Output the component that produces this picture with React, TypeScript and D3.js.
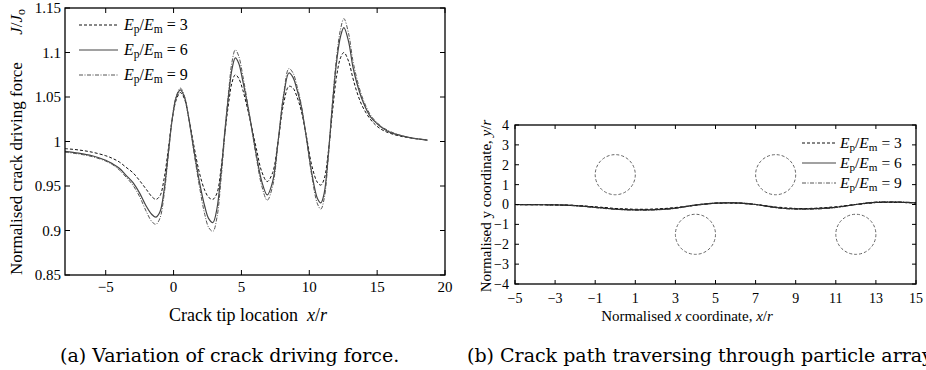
import React, { useRef, useEffect } from 'react';
import * as d3 from 'd3';

const W = 926;
const H = 370;

// (a) crack driving force J/Jo against crack tip location x/r
const tipX = [-8, -7, -6, -5, -4.5, -4, -3.5, -3, -2.5, -2, -1.6, -1.3, -1.0, -0.7, -0.4, -0.1, 0.2, 0.5, 0.8, 1.1, 1.5, 1.9, 2.3, 2.6, 2.9, 3.2, 3.5, 3.8, 4.1, 4.3, 4.55, 4.8, 5.1, 5.4, 5.7, 6.1, 6.5, 6.9, 7.3, 7.7, 8.1, 8.5, 8.8, 9.1, 9.4, 9.8, 10.2, 10.6, 10.85, 11.1, 11.4, 11.7, 12.0, 12.3, 12.55, 12.9, 13.2, 13.5, 13.9, 14.5, 15.0, 15.5, 16.0, 16.7, 17.5, 18.7];
const jE3 = [0.992, 0.9905, 0.988, 0.984, 0.981, 0.977, 0.971, 0.965, 0.956, 0.946, 0.938, 0.935, 0.939, 0.958, 0.990, 1.025, 1.047, 1.055, 1.048, 1.028, 0.995, 0.965, 0.945, 0.937, 0.935, 0.942, 0.970, 1.012, 1.048, 1.066, 1.075, 1.071, 1.058, 1.040, 1.020, 0.992, 0.966, 0.955, 0.965, 1.000, 1.042, 1.062, 1.060, 1.050, 1.035, 1.005, 0.972, 0.954, 0.951, 0.958, 0.988, 1.032, 1.072, 1.094, 1.100, 1.090, 1.072, 1.056, 1.040, 1.025, 1.017, 1.012, 1.009, 1.006, 1.004, 1.0015];
const jE6 = [0.989, 0.987, 0.984, 0.979, 0.975, 0.970, 0.962, 0.954, 0.942, 0.927, 0.918, 0.915, 0.921, 0.945, 0.985, 1.025, 1.050, 1.058, 1.050, 1.028, 0.990, 0.955, 0.927, 0.913, 0.909, 0.925, 0.965, 1.015, 1.058, 1.081, 1.094, 1.088, 1.068, 1.045, 1.020, 0.985, 0.955, 0.940, 0.955, 1.000, 1.050, 1.077, 1.072, 1.058, 1.040, 1.003, 0.963, 0.936, 0.931, 0.942, 0.985, 1.040, 1.088, 1.118, 1.128, 1.112, 1.085, 1.066, 1.047, 1.028, 1.020, 1.014, 1.010, 1.007, 1.004, 1.0015];
const jE9 = [0.988, 0.986, 0.983, 0.978, 0.974, 0.968, 0.960, 0.951, 0.938, 0.921, 0.910, 0.907, 0.914, 0.940, 0.983, 1.026, 1.051, 1.060, 1.051, 1.028, 0.988, 0.950, 0.918, 0.903, 0.899, 0.915, 0.958, 1.012, 1.063, 1.089, 1.103, 1.096, 1.074, 1.048, 1.020, 0.982, 0.950, 0.934, 0.950, 0.998, 1.052, 1.082, 1.077, 1.062, 1.042, 1.002, 0.960, 0.930, 0.924, 0.936, 0.982, 1.042, 1.093, 1.126, 1.138, 1.121, 1.092, 1.071, 1.050, 1.030, 1.021, 1.015, 1.011, 1.007, 1.004, 1.0015];
const tipXTicks = [-5, 0, 5, 10, 15, 20];
const jTicks = [0.85, 0.9, 0.95, 1, 1.05, 1.1, 1.15];

// (b) crack path y/r against x/r, with the particle array
const pathX = [-5, -4, -3, -2, -1, 0, 1, 2, 3, 4, 5, 6, 7, 8, 9, 10, 11, 12, 13, 14, 15];
const pathE3 = [0, -0.01, -0.02, -0.05, -0.12, -0.2, -0.24, -0.23, -0.16, -0.03, 0.06, 0.07, 0.0, -0.13, -0.2, -0.19, -0.12, 0.0, 0.1, 0.11, 0.08];
const pathE6 = [0, -0.01, -0.02, -0.06, -0.14, -0.23, -0.27, -0.26, -0.18, -0.03, 0.07, 0.08, 0.0, -0.15, -0.22, -0.21, -0.14, 0.0, 0.11, 0.12, 0.08];
const pathE9 = [0, -0.01, -0.02, -0.06, -0.15, -0.24, -0.28, -0.27, -0.19, -0.03, 0.07, 0.09, 0.0, -0.16, -0.23, -0.22, -0.15, 0.0, 0.12, 0.13, 0.09];
const particleX = [0, 8, 4, 12];
const particleY = [1.5, 1.5, -1.5, -1.5];
const particleR = 1;
const pathXTicks = [-5, -3, -1, 1, 3, 5, 7, 9, 11, 13, 15];
const pathYTicks = [-4, -3, -2, -1, 0, 1, 2, 3, 4];

const ratios = [3, 6, 9];
const seriesStyle = [
  { stroke: '#111', dash: '3,2', width: 1 },
  { stroke: '#444', dash: null, width: 1.2 },
  { stroke: '#555', dash: '4,1.5,1,1.5', width: 1 },
];
const pathStyle = [
  { stroke: '#000', dash: '3,2', width: 1.2 },
  { stroke: '#222', dash: null, width: 1.2 },
  { stroke: '#333', dash: '4,1.5,1,1.5', width: 1.2 },
];

const SERIF = '"Liberation Serif", "Times New Roman", serif';
const CAPTION = '"DejaVu Serif", serif';
const fmt = (v: number) => String(v).replace('-', '\u2212');

const App: React.FC = () => {
  const svgRef = useRef<SVGSVGElement>(null);

  useEffect(() => {
    if (!svgRef.current) return;
    const svg = d3.select(svgRef.current);
    svg.selectAll('*').remove();

    const frame = (g: any, x: any, y: any, xt: number[], yt: number[], tick: number) => {
      const [x0, x1] = x.range();
      const [y0, y1] = y.range();
      xt.forEach(t => {
        g.append('line').attr('x1', x(t)).attr('x2', x(t)).attr('y1', y0).attr('y2', y0 - tick).attr('stroke', '#000');
        g.append('line').attr('x1', x(t)).attr('x2', x(t)).attr('y1', y1).attr('y2', y1 + tick).attr('stroke', '#000');
      });
      yt.forEach(t => {
        g.append('line').attr('x1', x0).attr('x2', x0 + tick).attr('y1', y(t)).attr('y2', y(t)).attr('stroke', '#000');
        g.append('line').attr('x1', x1).attr('x2', x1 - tick).attr('y1', y(t)).attr('y2', y(t)).attr('stroke', '#000');
      });
      g.append('rect')
        .attr('x', x0).attr('y', y1)
        .attr('width', x1 - x0).attr('height', y0 - y1)
        .attr('fill', 'none').attr('stroke', '#000').attr('stroke-width', 1.3);
    };

    const legend = (g: any, lx0: number, lx1: number, tx: number, ys: number[], fs: number) => {
      ratios.forEach((r, i) => {
        const st = seriesStyle[i];
        g.append('line')
          .attr('x1', lx0).attr('x2', lx1).attr('y1', ys[i]).attr('y2', ys[i])
          .attr('stroke', st.stroke).attr('stroke-width', st.width)
          .attr('stroke-dasharray', st.dash);
        const t = g.append('text')
          .attr('x', tx).attr('y', ys[i] + fs * 0.33)
          .attr('font-family', SERIF).attr('font-size', fs);
        t.append('tspan').attr('font-style', 'italic').text('E');
        t.append('tspan').attr('font-size', fs * 0.72).attr('dy', fs * 0.2).text('p');
        t.append('tspan').attr('dy', -fs * 0.2).text('/');
        t.append('tspan').attr('font-style', 'italic').text('E');
        t.append('tspan').attr('font-size', fs * 0.72).attr('dy', fs * 0.2).text('m');
        t.append('tspan').attr('dy', -fs * 0.2).text(` = ${r}`);
      });
    };

    // ---------- (a) ----------
    const gA = svg.append('g');
    const xA = d3.scaleLinear().domain([-8, 20]).range([65, 445]);
    const yA = d3.scaleLinear().domain([0.85, 1.15]).range([275, 8]);

    [jE3, jE6, jE9].forEach((ys, i) => {
      const st = seriesStyle[i];
      const line = d3.line<number>()
        .x((_, k) => xA(tipX[k]))
        .y(d => yA(d))
        .curve(d3.curveCatmullRom.alpha(0.5));
      gA.append('path')
        .attr('d', line(ys) as string)
        .attr('fill', 'none')
        .attr('stroke', st.stroke)
        .attr('stroke-width', st.width)
        .attr('stroke-dasharray', st.dash);
    });
    frame(gA, xA, yA, tipXTicks, jTicks, 5);

    jTicks.forEach(t => {
      gA.append('text')
        .attr('x', 61).attr('y', yA(t)).attr('dy', '0.35em')
        .attr('text-anchor', 'end')
        .attr('font-family', SERIF).attr('font-size', 15)
        .text(fmt(t));
    });
    tipXTicks.forEach(t => {
      gA.append('text')
        .attr('x', xA(t)).attr('y', 292)
        .attr('text-anchor', 'middle')
        .attr('font-family', SERIF).attr('font-size', 15)
        .text(fmt(t));
    });

    const xl = gA.append('text')
      .attr('x', 248).attr('y', 321)
      .attr('text-anchor', 'middle')
      .attr('font-family', SERIF).attr('font-size', 18);
    xl.append('tspan').text('Crack tip location\u00a0\u00a0');
    xl.append('tspan').attr('font-style', 'italic').text('x');
    xl.append('tspan').text('/');
    xl.append('tspan').attr('font-style', 'italic').text('r');

    gA.append('text')
      .attr('transform', 'translate(22,275) rotate(-90)')
      .attr('font-family', SERIF).attr('font-size', 17)
      .text('Normalised crack driving force');
    const jl = gA.append('text')
      .attr('transform', 'translate(22,9) rotate(-90)')
      .attr('text-anchor', 'end')
      .attr('font-family', SERIF).attr('font-size', 17);
    jl.append('tspan').attr('font-style', 'italic').text('J');
    jl.append('tspan').text('/');
    jl.append('tspan').attr('font-style', 'italic').text('J');
    jl.append('tspan').attr('font-size', 12).attr('dy', 3).text('o');

    legend(gA, 79, 118, 124, [25, 50, 75], 16);

    svg.append('text')
      .attr('x', 60).attr('y', 362)
      .attr('font-family', CAPTION)
      .attr('font-size', 19)
      .text('(a) Variation of crack driving force.');

    // ---------- (b) ----------
    const gB = svg.append('g');
    const xB = d3.scaleLinear().domain([-5, 15]).range([515, 916]);
    const yB = d3.scaleLinear().domain([-4, 4]).range([284, 125]);

    particleX.forEach((px, i) => {
      gB.append('circle')
        .attr('cx', xB(px)).attr('cy', yB(particleY[i]))
        .attr('r', xB(particleR) - xB(0))
        .attr('fill', 'none')
        .attr('stroke', '#666')
        .attr('stroke-width', 1)
        .attr('stroke-dasharray', '3,2');
    });

    [pathE3, pathE6, pathE9].forEach((ys, i) => {
      const st = pathStyle[i];
      const line = d3.line<number>()
        .x((_, k) => xB(pathX[k]))
        .y(d => yB(d))
        .curve(d3.curveCatmullRom.alpha(0.5));
      gB.append('path')
        .attr('d', line(ys) as string)
        .attr('fill', 'none')
        .attr('stroke', st.stroke)
        .attr('stroke-width', st.width)
        .attr('stroke-dasharray', st.dash);
    });
    frame(gB, xB, yB, pathXTicks, pathYTicks, 4);

    pathYTicks.forEach(t => {
      gB.append('text')
        .attr('x', 509).attr('y', yB(t)).attr('dy', '0.35em')
        .attr('text-anchor', 'end')
        .attr('font-family', SERIF).attr('font-size', 14)
        .text(fmt(t));
    });
    pathXTicks.forEach(t => {
      gB.append('text')
        .attr('x', xB(t)).attr('y', 303)
        .attr('text-anchor', 'middle')
        .attr('font-family', SERIF).attr('font-size', 14)
        .text(fmt(t));
    });

    const xlB = gB.append('text')
      .attr('x', 687).attr('y', 321)
      .attr('text-anchor', 'middle')
      .attr('font-family', SERIF).attr('font-size', 15);
    xlB.append('tspan').text('Normalised ');
    xlB.append('tspan').attr('font-style', 'italic').text('x');
    xlB.append('tspan').text(' coordinate, ');
    xlB.append('tspan').attr('font-style', 'italic').text('x');
    xlB.append('tspan').text('/');
    xlB.append('tspan').attr('font-style', 'italic').text('r');

    const ylB = gB.append('text')
      .attr('transform', 'translate(491,206) rotate(-90)')
      .attr('text-anchor', 'middle')
      .attr('font-family', SERIF).attr('font-size', 15);
    ylB.append('tspan').text('Normalised y coordinate, ');
    ylB.append('tspan').attr('font-style', 'italic').text('y');
    ylB.append('tspan').text('/');
    ylB.append('tspan').attr('font-style', 'italic').text('r');

    legend(gB, 802, 836, 840, [143, 163, 183], 15.5);

    svg.append('text')
      .attr('x', 467).attr('y', 362)
      .attr('font-family', CAPTION)
      .attr('font-size', 19)
      .text('(b) Crack path traversing through particle array');
  }, []);

  return (
    <svg
      ref={svgRef}
      width={W}
      height={H}
      style={{ position: 'absolute', left: 0, top: 0, background: '#fff' }}
    />
  );
};

export default App;
